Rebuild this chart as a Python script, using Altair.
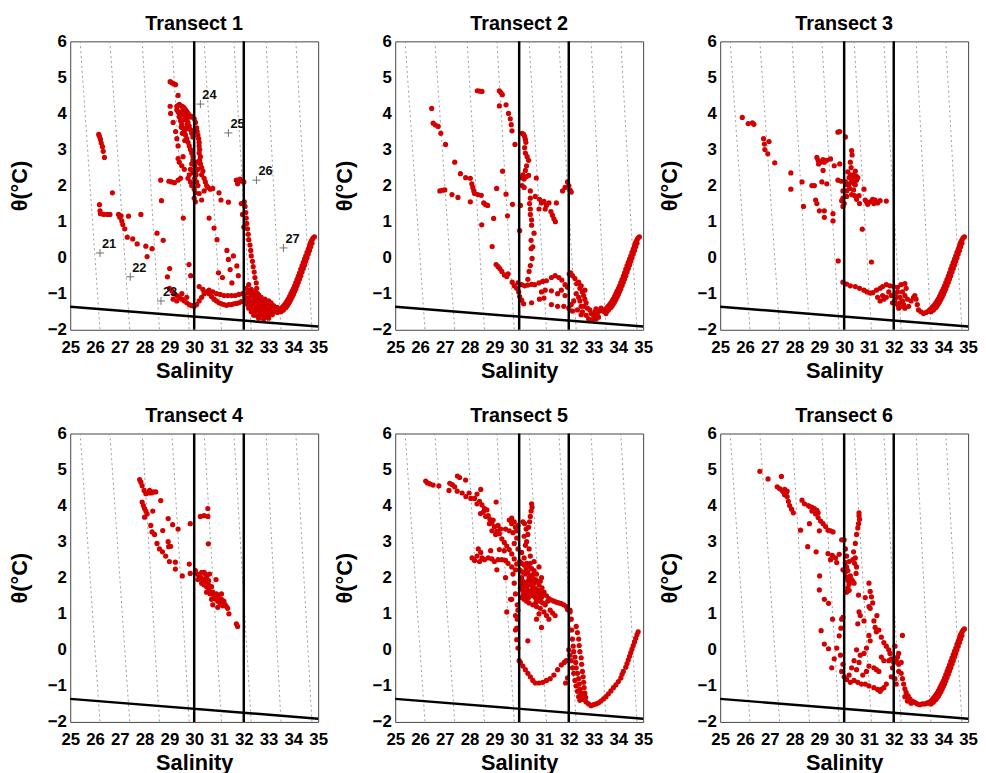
import altair as alt
import pandas as pd

FONT = "Liberation Sans"
RED = "#d40000"

s_ticks = list(range(25, 36))
t_ticks = list(range(-2, 7))
thresholds = [30, 32]
freeze_S = [25, 35]
freeze_T = [-1.36, -1.91]
iso_top_S = [25.4, 26.6, 27.9, 29.1, 30.4, 31.6, 32.9, 34.1]     # at theta = 6
iso_bot_S = [26.2, 27.4, 28.6, 29.8, 31.1, 32.3, 33.5, 34.75]    # at theta = -2

stations = ["21", "22", "23", "24", "25", "26", "27"]
station_S = [26.2, 27.42, 28.66, 30.25, 31.38, 32.51, 33.6]
station_T = [0.13, -0.53, -1.2, 4.26, 3.46, 2.15, 0.27]

deep_branch = [
    (33.4, -1.48), (33.45, -1.45), (33.5, -1.42), (33.55, -1.38), (33.6, -1.34), (33.65, -1.3),
    (33.7, -1.25), (33.75, -1.2), (33.8, -1.14), (33.85, -1.07), (33.9, -1.0), (33.95, -0.93),
    (34.0, -0.86), (34.05, -0.78), (34.1, -0.69), (34.15, -0.6), (34.2, -0.51), (34.25, -0.42),
    (34.3, -0.32), (34.35, -0.22), (34.4, -0.13), (34.45, -0.04), (34.5, 0.05), (34.55, 0.15),
    (34.6, 0.24), (34.65, 0.32), (34.68, 0.4), (34.72, 0.45), (34.76, 0.5), (34.8, 0.55), (34.85, 0.58),
    (33.5, -1.5), (33.6, -1.45), (33.7, -1.38), (33.8, -1.28), (33.9, -1.16), (34.0, -1.02),
    (34.1, -0.86), (34.2, -0.68), (34.3, -0.5), (34.4, -0.3), (34.5, -0.1), (34.6, 0.1), (34.7, 0.3),
    (33.55, -1.46), (33.65, -1.4), (33.75, -1.33), (33.85, -1.22), (33.95, -1.09), (34.05, -0.94),
    (34.15, -0.77), (34.25, -0.59), (34.35, -0.4), (34.45, -0.2), (34.55, 0.0), (34.65, 0.2), (34.75, 0.4),
]

t1_pts = [
    (26.15, 3.42), (26.18, 3.36), (26.22, 3.28), (26.25, 3.18), (26.3, 3.08), (26.33, 2.95), (26.38, 2.78),
    (26.7, 1.8), (26.18, 1.47), (26.2, 1.3), (26.22, 1.22), (26.35, 1.2), (26.5, 1.2), (26.6, 1.2),
    (26.95, 1.2), (27.0, 1.12), (27.05, 1.16), (27.08, 1.02), (27.12, 0.92), (27.2, 0.8), (27.35, 1.15), (27.85, 1.2),
    (27.3, 0.57), (27.52, 0.52), (27.7, 0.38), (28.05, 0.32), (28.3, 0.25), (28.1, 0.03), (28.5, 0.68), (28.75, 0.48),
    (28.65, 2.15), (28.68, 1.58), (28.98, 2.12), (29.08, 2.1), (29.2, 2.08), (29.35, 2.15), (29.45, 2.2),
    (29.4, 2.65), (29.5, 2.55), (29.6, 2.45), (29.35, 2.75), (29.55, 2.8),
    (29.03, 4.88), (29.1, 4.85), (29.18, 4.82), (29.25, 4.8), (29.35, 4.5),
    (29.03, 4.2), (29.05, 4.0), (29.15, 3.75), (29.25, 3.5), (29.3, 3.3), (29.35, 3.1),
    (29.3, 4.2), (29.35, 4.22), (29.4, 4.25), (29.45, 4.22), (29.5, 4.2), (29.55, 4.18), (29.6, 4.15),
    (29.65, 4.1), (29.7, 4.05), (29.75, 4.0), (29.8, 3.95), (29.85, 3.9), (29.9, 3.92), (30.0, 3.85),
    (29.3, 4.1), (29.35, 4.05), (29.4, 4.0), (29.45, 3.95), (29.5, 4.05), (29.55, 4.0), (29.6, 3.95),
    (29.65, 3.9), (29.7, 3.85), (29.75, 3.75), (29.8, 3.65), (29.85, 3.55), (29.9, 3.45), (29.95, 3.35),
    (29.4, 3.9), (29.45, 3.8), (29.5, 3.7), (29.55, 3.6), (29.6, 3.5), (29.65, 3.4), (29.7, 3.3),
    (29.75, 3.2), (29.8, 3.1), (29.85, 3.0), (29.9, 2.9), (29.95, 2.8), (29.95, 2.7), (29.9, 2.6),
    (29.85, 2.45), (29.8, 2.3), (29.75, 2.2), (29.85, 2.1), (29.95, 2.35), (29.9, 2.0),
    (29.48, 3.62), (29.58, 3.82), (29.68, 3.58), (29.52, 3.45), (29.72, 3.7), (29.62, 3.25),
    (30.05, 3.75), (30.1, 3.6), (30.12, 3.5), (30.15, 3.4), (30.18, 3.3), (30.2, 3.2), (30.2, 3.1),
    (30.22, 3.0), (30.2, 2.9), (30.25, 2.8), (30.22, 2.7), (30.25, 2.6), (30.3, 2.5), (30.35, 2.4),
    (30.3, 2.3), (30.4, 2.2), (30.45, 2.1), (30.5, 2.0), (30.55, 1.95), (30.65, 1.9), (30.75, 1.92),
    (30.02, 2.55), (30.05, 2.4), (30.08, 2.3), (30.02, 2.2), (30.1, 2.1), (30.15, 2.0), (30.0, 1.9),
    (30.05, 1.8), (30.2, 1.78), (30.0, 1.65), (30.05, 1.55), (30.3, 1.6), (30.4, 1.85), (30.15, 2.45), (30.1, 2.65),
    (31.0, 1.8), (31.08, 1.6), (31.38, 1.54), (30.6, 1.1), (30.8, 0.82), (30.92, 0.5), (31.32, 0.2),
    (31.38, -0.05), (31.58, 0.05), (31.45, -0.33), (31.72, -0.23), (30.98, -0.42), (31.14, -0.55),
    (31.52, -0.7), (31.78, -0.5),
    (29.01, -0.3), (28.92, -0.53), (29.79, -0.19), (29.86, -0.5), (29.56, 1.1),
    (31.7, 2.15), (31.78, 2.15), (31.85, 2.18), (31.92, 2.12), (32.0, 2.1), (31.75, 2.05),
    (32.02, 1.55), (32.05, 1.42), (32.08, 1.25), (32.1, 1.1), (32.12, 0.95), (32.15, 0.8), (32.18, 0.65),
    (32.2, 0.5), (32.25, 0.35), (32.28, 0.2), (32.3, 0.05), (32.35, -0.1), (32.38, -0.25), (32.42, -0.4),
    (32.45, -0.55), (32.5, -0.7), (32.52, -0.85), (32.55, -1.0), (31.9, 1.5), (31.95, 1.2), (32.0, 0.85),
    (29.0, -0.85), (29.1, -0.92), (29.2, -1.0), (29.3, -1.05), (29.4, -1.1), (29.5, -1.15), (29.6, -1.2),
    (29.7, -1.25), (29.8, -1.3), (29.9, -1.33), (30.0, -1.35), (30.1, -1.3), (30.2, -1.2), (30.3, -1.1),
    (30.4, -1.0), (30.5, -0.95), (30.6, -1.0), (30.7, -1.08), (30.8, -1.15), (30.9, -1.2), (31.0, -1.25),
    (31.1, -1.28), (31.2, -1.3), (31.3, -1.32), (31.4, -1.3), (31.5, -1.3), (31.6, -1.28), (31.7, -1.27),
    (31.8, -1.25), (31.9, -1.22),
    (30.2, -0.8), (30.35, -0.88), (30.6, -0.9), (30.75, -0.95), (30.9, -1.0), (31.05, -1.02), (31.2, -1.05),
    (31.35, -1.05), (31.5, -1.05), (31.65, -1.05), (31.8, -1.02), (31.95, -1.0), (29.15, -1.15), (29.3, -1.2),
    (29.5, -1.0), (29.7, -1.1),
    (32.1, -0.85), (32.3, -0.88), (32.2, -0.75), (32.4, -0.95),
    (32.0, -1.0), (32.15, -0.98), (32.35, -1.02), (32.5, -0.97), (32.6, -1.03), (32.25, -0.92),
    (32.05, -1.1), (32.2, -1.12), (32.4, -1.08), (32.55, -1.13), (32.7, -1.1), (32.85, -1.15), (32.3, -1.05),
    (32.1, -1.2), (32.25, -1.22), (32.4, -1.18), (32.55, -1.23), (32.7, -1.2), (32.85, -1.22), (33.0, -1.2), (33.1, -1.25),
    (32.15, -1.3), (32.3, -1.32), (32.45, -1.28), (32.6, -1.33), (32.75, -1.3), (32.9, -1.32), (33.05, -1.28), (33.2, -1.33), (33.35, -1.38),
    (32.2, -1.4), (32.35, -1.42), (32.5, -1.38), (32.65, -1.43), (32.8, -1.4), (32.95, -1.42), (33.1, -1.38), (33.25, -1.43), (33.4, -1.45),
    (32.3, -1.5), (32.45, -1.52), (32.6, -1.48), (32.75, -1.53), (32.9, -1.5), (33.05, -1.52), (33.2, -1.48), (33.35, -1.52),
    (32.4, -1.6), (32.55, -1.62), (32.7, -1.58), (32.85, -1.63), (33.0, -1.6), (33.15, -1.58),
    (32.6, -1.68), (32.8, -1.7), (33.0, -1.68),
    (32.28, -1.25), (32.52, -1.35), (32.78, -1.47), (32.95, -1.27), (33.12, -1.45), (32.68, -1.55),
] + deep_branch

t2_pts = [
    (26.47, 4.14), (26.53, 3.73), (26.62, 3.68), (26.73, 3.64), (26.84, 3.45), (27.03, 3.14),
    (27.4, 2.65), (27.63, 2.33), (27.84, 2.22), (28.03, 2.2), (28.09, 2.05), (28.13, 1.95), (28.17, 1.85),
    (28.2, 1.78), (28.33, 1.75), (28.47, 1.73), (28.57, 1.52), (28.65, 1.47), (28.73, 1.45),
    (26.8, 1.85), (26.9, 1.87), (27.0, 1.88), (27.29, 1.75), (27.53, 1.67), (28.03, 1.55), (28.49, 0.91),
    (28.31, 4.63), (28.4, 4.62), (28.5, 4.61),
    (29.2, 4.63), (29.26, 4.58), (29.32, 4.52), (29.2, 4.21), (29.47, 4.24), (29.57, 4.0), (29.64, 3.85),
    (29.68, 3.69), (29.71, 3.52), (29.83, 3.14),
    (30.12, 3.45), (30.18, 3.42), (30.22, 3.36), (30.25, 3.28), (30.27, 3.2), (30.22, 3.05), (30.25, 2.9),
    (30.32, 2.8), (30.38, 2.7), (30.3, 2.55), (30.25, 2.42), (30.15, 2.3), (30.1, 2.22), (30.2, 2.18),
    (30.3, 2.25), (30.38, 2.28), (30.12, 2.0), (30.2, 1.95), (30.45, 1.85),
    (30.45, 1.65), (30.42, 1.5), (30.45, 1.35), (30.45, 1.2), (30.5, 1.05), (30.5, 0.9), (30.6, 0.68),
    (30.48, 0.48), (30.55, 0.3), (30.48, 0.25), (30.52, -0.02), (30.45, -0.22), (30.4, -0.38), (30.35, -0.6),
    (30.02, 0.75), (30.05, 1.45),
    (30.69, 2.21), (30.65, 1.7), (30.82, 1.62), (30.9, 1.52), (31.0, 1.56), (31.1, 1.45), (31.2, 1.52),
    (31.28, 1.28), (31.34, 1.18), (31.4, 1.08), (31.46, 1.0), (31.5, 1.52), (30.8, 1.35), (31.05, 1.35),
    (31.75, 1.85), (31.85, 1.95), (31.95, 2.1), (32.0, 2.0), (32.05, 1.88), (32.1, 1.82),
    (29.33, 2.4), (29.09, 1.92), (29.47, 1.76), (29.73, 1.48), (29.53, 1.16), (28.97, 1.09), (28.91, 0.31),
    (29.07, -0.19), (29.15, -0.25), (29.22, -0.3), (29.3, -0.38), (29.4, -0.48), (29.5, -0.52), (29.55, -0.45),
    (29.72, -0.68), (29.8, -0.78), (29.9, -0.85), (29.98, -0.95), (30.02, -1.08), (30.1, -1.18), (30.18, -1.28), (29.95, -0.7),
    (30.1, -0.75), (30.22, -0.78), (30.35, -0.76), (30.5, -0.74), (30.62, -0.75), (30.8, -0.7), (30.95, -0.66),
    (31.1, -0.64), (31.3, -0.55), (31.45, -0.5), (31.6, -0.55), (31.72, -0.62), (31.85, -0.75), (31.95, -0.82),
    (30.5, -1.25), (30.82, -1.15), (31.0, -1.12), (31.3, -1.3), (31.55, -1.35), (31.8, -1.35), (32.0, -1.4), (32.15, -1.48),
    (30.9, -0.95), (31.05, -0.9), (31.3, -0.92), (31.55, -1.0), (31.7, -0.9), (31.85, -1.05),
    (32.02, -0.45), (32.08, -0.42), (32.15, -0.5), (32.25, -0.58), (32.32, -0.72), (32.4, -0.68), (32.45, -0.85),
    (32.5, -0.78), (32.55, -0.95), (32.6, -1.05), (32.65, -0.9), (32.65, -1.15), (32.7, -1.25), (32.62, -1.35),
    (32.75, -1.4), (32.85, -1.45), (32.9, -1.55), (33.0, -1.6), (33.05, -1.5), (33.1, -1.42), (33.15, -1.55),
    (33.2, -1.65), (33.25, -1.48), (33.3, -1.4), (33.4, -1.48), (33.5, -1.55), (33.55, -1.48),
    (32.3, -1.0), (32.4, -1.1), (32.45, -1.2), (32.5, -1.35), (32.55, -1.5), (32.7, -1.6), (32.8, -1.7),
    (32.95, -1.72), (33.1, -1.7), (32.2, -1.2), (32.1, -1.3), (32.35, -1.45), (32.5, -1.58),
] + deep_branch

t3_pts = [
    (25.89, 3.89), (26.13, 3.72), (26.3, 3.74), (26.36, 3.7),
    (26.75, 3.3), (26.78, 3.15), (26.8, 3.0), (26.92, 2.88), (26.97, 3.22),
    (27.2, 2.63), (27.85, 2.35), (27.85, 1.9), (28.3, 2.1), (28.36, 1.42),
    (28.7, 2.0), (28.8, 2.0), (28.85, 1.6), (28.9, 1.5), (29.0, 1.3), (29.2, 1.3), (29.2, 1.12),
    (29.55, 1.22), (29.55, 1.02),
    (28.9, 2.78), (28.95, 2.7), (28.97, 2.6), (29.05, 2.65), (29.15, 2.72), (29.3, 2.7), (29.45, 2.74),
    (29.15, 2.42), (29.1, 2.1), (29.3, 2.05), (29.6, 2.55), (29.2, 2.65),
    (29.75, 3.48), (29.82, 3.5), (30.05, 3.35),
    (30.3, 2.97), (30.32, 2.85), (30.25, 2.65), (30.28, 2.5), (30.15, 2.38), (30.38, 2.3), (30.48, 2.26),
    (30.5, 2.15), (30.2, 2.22), (30.3, 2.12), (30.12, 2.02), (30.22, 1.92), (30.38, 1.88), (30.3, 1.75),
    (30.1, 1.7), (30.0, 1.5), (29.95, 1.42), (29.95, 1.65), (29.75, 2.15), (29.88, 2.12), (29.82, 2.6),
    (30.55, 2.22), (30.45, 2.02), (30.6, 1.72), (30.5, 1.62), (30.62, 1.5), (30.4, 2.05), (30.2, 2.05),
    (30.35, 2.2), (30.45, 2.4), (30.1, 1.85), (30.05, 2.1), (29.95, 1.85), (29.9, 1.58), (30.42, 1.72), (30.25, 2.3),
    (30.8, 1.9), (30.85, 1.6), (30.95, 1.48), (31.05, 1.55), (31.15, 1.62), (31.25, 1.6), (31.35, 1.52),
    (31.45, 1.58), (31.7, 1.57), (30.73, 0.79), (31.1, -0.12), (30.9, 1.55), (31.2, 1.5),
    (29.76, -0.09), (29.95, -0.68), (30.1, -0.73), (30.25, -0.78), (30.45, -0.8), (30.62, -0.85), (30.8, -0.9),
    (30.92, -0.95), (31.05, -0.98), (31.15, -0.97),
    (31.3, -0.9), (31.45, -0.85), (31.55, -0.8), (31.7, -0.75), (31.85, -0.78), (32.0, -0.8), (32.15, -0.82),
    (32.3, -0.75), (32.45, -0.72),
    (31.35, -1.1), (31.45, -1.2), (31.55, -1.05), (31.7, -1.1), (31.8, -0.95), (31.9, -1.05), (32.05, -1.0),
    (32.15, -0.95), (32.25, -1.1), (32.35, -0.95), (32.45, -1.05), (32.5, -0.85), (32.55, -1.15),
    (32.05, -1.2), (32.15, -1.3), (32.25, -1.25), (32.35, -1.2), (32.4, -1.3), (32.2, -1.4), (32.3, -1.35),
    (32.45, -1.4), (32.6, -1.35), (32.7, -1.2), (32.8, -1.1), (32.85, -1.05), (32.9, -1.15), (32.95, -1.3),
    (33.0, -1.45), (33.1, -1.5), (33.2, -1.55), (33.3, -1.52), (31.95, -1.25), (32.1, -1.1), (31.6, -1.15),
] + deep_branch

t4_pts = [
    (27.8, 4.72), (27.85, 4.65), (27.9, 4.55), (27.98, 4.42), (28.05, 4.33), (28.15, 4.35), (28.2, 4.42),
    (28.27, 4.35), (28.35, 4.38), (28.45, 4.38),
    (27.9, 4.1), (27.95, 4.0), (28.0, 3.92), (28.05, 3.85), (28.1, 3.77), (28.0, 3.68),
    (28.25, 3.45), (28.3, 3.27), (28.4, 3.2), (28.5, 2.95), (28.6, 2.8), (28.72, 2.72), (28.85, 2.6), (29.0, 2.45),
    (28.33, 3.85), (28.65, 4.14), (28.73, 3.31), (28.95, 3.64), (29.13, 3.47), (29.35, 3.35), (28.95, 3.0),
    (28.97, 2.86), (29.05, 2.87),
    (29.24, 2.43), (29.24, 2.24), (29.52, 2.05), (29.8, 2.38), (29.84, 2.12), (29.84, 3.5),
    (30.25, 3.7), (30.4, 3.72), (30.55, 3.92), (30.55, 3.7), (30.57, 2.94),
    (30.05, 2.2), (30.12, 2.1), (30.2, 2.05), (30.28, 2.0), (30.35, 1.95), (30.45, 2.1), (30.5, 2.0),
    (30.42, 1.9), (30.3, 1.85), (30.4, 1.8), (30.5, 1.75), (30.55, 1.85), (30.6, 1.65), (30.65, 1.55),
    (30.58, 1.92), (30.7, 1.75), (30.75, 1.6), (30.8, 1.5), (30.85, 1.42), (30.9, 1.55), (30.95, 1.35),
    (31.0, 1.45), (31.05, 1.28), (31.1, 1.4), (31.15, 1.22), (31.2, 1.35), (31.25, 1.25), (31.3, 1.2),
    (31.35, 1.15), (31.4, 1.0), (30.88, 1.95), (30.62, 2.1), (30.75, 1.25), (30.95, 1.18), (30.5, 1.6),
    (30.4, 2.15), (30.3, 2.15), (30.6, 1.78), (30.15, 1.95), (31.7, 0.72), (31.75, 0.65), (30.7, 1.4), (31.1, 1.55),
]

t5_pts = [
    (26.23, 4.68), (26.3, 4.63), (26.4, 4.6), (26.53, 4.57), (26.76, 4.55),
    (27.2, 4.62), (27.3, 4.58), (27.4, 4.52), (27.17, 4.42), (27.51, 4.82), (27.6, 4.78), (27.84, 4.71), (27.5, 4.4),
    (27.7, 4.35), (27.85, 4.25), (27.98, 4.35), (28.05, 4.2), (28.2, 4.2), (28.3, 4.32), (28.45, 4.45),
    (28.4, 4.12), (28.5, 4.02), (28.6, 3.92), (28.7, 3.88), (28.75, 3.72), (28.82, 3.62), (28.9, 3.52),
    (29.0, 3.42), (29.1, 3.3), (29.2, 3.22), (29.3, 3.08), (29.4, 2.98), (29.5, 2.88), (29.6, 2.78),
    (29.7, 2.66), (29.8, 2.52), (29.9, 2.38), (30.0, 2.22), (29.07, 4.1), (28.44, 3.78), (28.3, 4.05),
    (28.55, 3.82), (28.65, 3.7), (28.8, 3.5), (28.95, 3.6), (29.15, 3.45), (29.25, 3.35), (29.05, 3.2), (28.9, 3.3),
    (28.1, 2.55), (28.2, 2.48), (28.3, 2.6), (28.35, 2.8), (28.45, 2.7), (28.5, 2.55), (28.6, 2.5),
    (28.75, 2.55), (28.9, 2.52), (29.0, 2.45), (29.15, 2.5), (29.3, 2.5), (29.45, 2.48), (29.55, 2.4),
    (29.7, 2.3), (29.85, 2.22), (29.1, 2.22), (29.2, 2.78), (28.85, 2.75), (29.4, 2.75), (28.4, 2.45),
    (29.6, 3.6), (29.7, 3.65), (29.8, 3.55), (29.85, 3.4), (29.9, 3.3), (29.75, 3.25), (29.9, 3.1),
    (29.6, 3.3), (29.45, 3.35), (29.8, 2.95), (29.95, 2.8), (29.95, 3.45), (29.7, 3.5),
    (30.5, 4.05), (30.52, 3.95), (30.48, 3.85), (30.45, 3.7), (30.42, 3.55), (30.38, 3.4), (30.35, 3.2),
    (30.3, 3.0), (30.22, 3.5), (30.28, 3.35), (30.15, 3.55), (30.2, 3.15), (30.25, 2.9), (30.4, 2.8),
    (30.45, 2.6), (30.1, 2.7),
    (30.02, 2.45), (30.1, 2.4), (30.2, 2.35), (30.3, 2.4), (30.4, 2.3), (30.5, 2.25), (30.6, 2.2),
    (30.05, 2.2), (30.15, 2.15), (30.25, 2.1), (30.35, 2.15), (30.45, 2.05), (30.55, 2.0), (30.65, 1.95), (30.75, 1.9),
    (30.05, 1.95), (30.15, 1.9), (30.25, 1.85), (30.35, 1.9), (30.45, 1.8), (30.55, 1.75), (30.65, 1.7),
    (30.75, 1.65), (30.85, 1.6), (30.95, 1.55),
    (30.05, 1.7), (30.15, 1.65), (30.25, 1.6), (30.35, 1.65), (30.45, 1.55), (30.55, 1.5), (30.65, 1.45),
    (30.75, 1.4), (30.85, 1.35), (30.95, 1.3), (31.05, 1.25),
    (30.1, 1.45), (30.2, 1.4), (30.3, 1.35), (30.4, 1.3), (30.55, 1.25), (30.7, 1.2), (30.85, 1.15), (31.0, 1.05), (31.1, 0.95),
    (30.1, 2.0), (30.2, 1.75), (30.3, 1.5), (30.4, 2.0), (30.5, 1.65), (30.6, 1.85), (30.7, 1.55), (30.8, 1.8),
    (30.9, 1.45), (31.0, 1.6), (31.1, 1.5), (31.15, 1.35), (30.6, 2.45), (30.7, 2.1), (30.8, 2.3), (30.9, 2.0), (30.2, 2.55),
    (30.12, 1.82), (30.32, 1.78), (30.48, 1.92), (30.62, 1.6), (30.78, 1.52), (30.28, 2.25), (30.58, 2.1),
    (30.38, 1.45), (30.68, 1.32), (30.18, 1.55), (30.92, 1.72), (30.45, 2.4), (30.85, 1.9),
    (31.2, 1.42), (31.3, 1.38), (31.4, 1.35), (31.5, 1.32), (31.6, 1.3), (31.7, 1.28), (31.8, 1.25), (31.9, 1.2),
    (31.95, 1.12), (32.05, 1.1), (31.25, 1.1), (31.35, 1.02), (31.45, 0.95), (31.2, 0.85), (30.9, 0.62), (30.7, 0.85), (30.8, 1.0),
    (29.8, 1.85), (29.85, 1.55), (29.7, 1.4), (29.92, 1.25), (29.85, 0.95), (29.92, 0.85), (29.85, 0.55),
    (29.9, 0.28), (29.95, 0.05), (30.0, -0.3), (29.65, 1.4), (29.5, 1.05), (29.95, 1.1), (29.9, 0.6),
    (30.35, 0.25), (29.45, 2.0), (29.75, 2.1),
    (30.05, -0.35), (30.15, -0.45), (30.25, -0.55), (30.35, -0.65), (30.45, -0.75), (30.55, -0.85),
    (30.65, -0.92), (30.8, -0.92), (30.95, -0.9), (31.1, -0.85), (31.25, -0.8), (31.4, -0.7), (31.55, -0.55),
    (31.7, -0.42), (31.82, -0.35), (31.9, -0.3), (31.87, -0.92), (31.95, -0.78),
    (32.05, 1.05), (32.1, 0.85), (32.12, 0.55), (32.15, 0.3), (32.18, 0.1), (32.2, -0.05), (32.25, -0.2),
    (32.28, -0.35), (32.3, -0.5), (32.35, -0.65), (32.4, -0.8), (32.42, -0.95), (32.45, -1.1), (32.5, -1.2),
    (32.55, -1.3), (32.6, -1.38), (32.7, -1.45), (32.8, -1.5), (32.9, -1.55), (33.0, -1.52),
    (32.3, 0.65), (32.35, 0.48), (32.4, 0.3), (32.42, 0.12), (32.45, -0.05), (32.5, -0.22), (32.52, -0.4),
    (32.55, -0.6), (32.58, -0.75), (32.6, -0.9), (32.62, -1.05), (32.65, -1.2), (32.68, -1.32),
    (32.0, 0.0), (32.05, -0.15), (32.1, -0.3), (32.15, -0.5), (32.2, -0.65), (32.25, -0.85), (32.3, -1.0),
    (32.35, -1.15), (32.4, -1.3), (32.45, -1.4),
    (33.1, -1.5), (33.2, -1.47), (33.3, -1.42), (33.4, -1.36), (33.5, -1.3), (33.6, -1.22), (33.7, -1.14),
    (33.8, -1.05), (33.9, -0.97), (34.0, -0.88), (34.1, -0.78), (34.15, -0.68), (34.2, -0.6), (34.3, -0.48),
    (34.35, -0.38), (34.4, -0.28), (34.45, -0.18), (34.5, -0.08), (34.55, 0.02), (34.6, 0.12), (34.65, 0.22),
    (34.7, 0.32), (34.75, 0.42), (34.8, 0.5),
]

t6_pts = [
    (26.6, 4.95), (26.93, 4.74), (27.47, 4.81),
    (27.3, 4.52), (27.4, 4.47), (27.5, 4.42), (27.6, 4.45), (27.7, 4.4), (27.6, 4.3), (27.7, 4.25),
    (27.75, 4.12), (27.8, 4.0), (27.88, 3.9), (27.95, 3.8), (27.55, 4.38), (27.65, 4.35),
    (28.3, 4.15), (28.4, 4.05), (28.55, 4.0), (28.62, 3.97), (28.7, 3.95), (28.8, 3.92), (28.9, 3.87),
    (28.7, 3.85), (28.85, 3.77), (28.95, 3.67), (29.05, 3.57), (29.15, 3.5), (29.25, 3.42), (29.35, 3.32),
    (29.45, 3.3), (29.55, 3.27), (29.0, 3.3), (28.95, 3.8),
    (28.24, 3.32), (28.6, 3.5), (28.53, 2.86), (28.87, 2.72),
    (29.35, 2.67), (29.45, 2.5), (29.52, 2.62), (29.65, 2.55), (29.7, 2.42), (29.9, 3.05), (29.8, 2.65),
    (29.01, 2.05), (29.0, 1.66), (29.2, 1.4), (29.37, 1.29), (29.53, 0.85), (29.07, 0.53), (29.2, 0.16),
    (29.37, 0.03), (29.6, -0.25), (29.5, -0.5), (29.8, 0.39), (29.87, 0.6), (29.9, 0.85), (29.95, 0.9),
    (29.7, 0.05), (29.85, -0.15), (29.95, -0.4),
    (30.0, 3.05), (30.05, 2.8), (30.1, 2.6), (30.05, 2.42), (30.1, 2.3), (30.15, 2.2), (30.1, 2.02),
    (30.15, 1.92), (30.2, 1.82), (30.15, 1.72), (30.2, 1.65), (30.3, 1.95), (30.35, 1.9), (30.4, 1.85),
    (30.05, 2.15), (29.95, 2.22), (30.2, 2.45), (30.25, 2.05), (30.1, 1.6),
    (30.6, 3.8), (30.6, 3.72), (30.62, 3.62), (30.58, 3.5), (30.55, 3.38), (30.5, 3.2), (30.45, 2.95),
    (30.38, 2.72), (30.35, 2.5), (30.42, 2.4), (30.5, 2.3), (30.48, 2.12), (30.58, 1.52), (30.6, 1.05),
    (30.55, 0.72), (30.65, 0.95), (30.45, 2.55),
    (31.0, 1.85), (31.05, 1.62), (31.1, 1.47), (31.15, 1.3), (31.0, 1.2), (31.05, 1.15), (30.85, 1.45),
    (30.8, 0.8), (31.2, 0.8), (31.25, 0.62), (31.3, 0.5), (31.32, 0.95), (31.4, 0.55), (31.5, 0.35),
    (31.6, 0.2), (31.7, 0.1), (31.8, 0.0), (31.85, -0.1), (31.0, 0.4), (31.05, 0.25), (31.2, -0.5),
    (31.3, -0.55), (31.4, -0.6), (31.0, -0.45), (31.5, -0.2), (31.6, -0.3), (31.8, -0.3), (31.9, -0.25),
    (32.0, -0.35), (32.1, -0.3), (32.2, -0.4), (32.3, -0.35), (32.35, 0.4), (32.2, -0.1), (32.05, 0.1),
    (31.9, -0.75), (32.05, -0.8), (32.2, -0.6), (32.3, -0.65), (32.1, -0.95), (32.15, -0.2), (31.95, -0.5),
    (30.0, -0.75), (30.1, -0.82), (30.25, -0.9), (30.4, -0.85), (30.55, -0.9), (30.7, -0.95), (30.85, -0.95),
    (31.0, -1.0), (31.2, -1.05), (31.35, -1.1), (31.5, -1.1), (31.6, -1.05), (31.45, -1.15), (31.7, -0.95),
    (29.9, -0.6), (30.2, -0.7), (30.5, -0.55), (30.3, -0.5), (30.75, -0.7), (30.9, -0.6), (30.4, -0.3),
    (30.6, -0.35), (30.8, -0.1), (30.9, 0.05), (30.5, 0.0), (30.65, -0.15),
    (32.35, -0.8), (32.4, -0.95), (32.45, -1.08), (32.5, -1.18), (32.58, -1.28), (32.65, -1.36),
    (32.75, -1.42), (32.85, -1.46), (32.95, -1.5), (33.05, -1.52), (33.15, -1.5), (33.25, -1.5),
    (33.35, -1.47), (32.45, -1.3), (32.55, -1.42), (32.7, -1.48),
] + deep_branch

transects = [t1_pts, t2_pts, t3_pts, t4_pts, t5_pts, t6_pts]

# ---------------------------------------------------------------------------
PANEL_W, PANEL_H = 251, 292
x_scale = alt.Scale(domain=[25, 35], nice=False, zero=False)
y_scale = alt.Scale(domain=[-2, 6], nice=False, zero=False)
x_axis = alt.Axis(values=s_ticks, title="Salinity", format="d", ticks=False, grid=False, domain=False,
                  labelFlush=False, labelOverlap=False, labelPadding=10, titlePadding=5)
y_axis = alt.Axis(values=t_ticks, title="θ(°C)", format="d", ticks=False, grid=False, domain=False,
                  labelFlush=False, labelOverlap=False, labelPadding=4, titlePadding=16)


def X(field="S"):
    return alt.X(f"{field}:Q", scale=x_scale, axis=x_axis)


def Y(field="T"):
    return alt.Y(f"{field}:Q", scale=y_scale, axis=y_axis)


iso_rows = []
for k, (a, b) in enumerate(zip(iso_top_S, iso_bot_S)):
    iso_rows.append({"id": k, "S": a, "T": 6})
    iso_rows.append({"id": k, "S": b, "T": -2})
iso_df = pd.DataFrame(iso_rows)
freeze_df = pd.DataFrame({"S": freeze_S, "T": freeze_T})
thr_df = pd.DataFrame({"S": thresholds})
stn_df = pd.DataFrame({"name": stations, "S": station_S, "T": station_T})


def panel(i, pts):
    df = pd.DataFrame(pts, columns=["S", "T"])
    iso = alt.Chart(iso_df).mark_line(color="#9a9a9a", strokeWidth=1, strokeDash=[2, 3]).encode(
        x=X(), y=Y(), detail="id:N")
    dots = alt.Chart(df).mark_circle(size=28, color=RED, opacity=1, clip=True).encode(x=X(), y=Y())
    vl = alt.Chart(thr_df).mark_rule(color="black", strokeWidth=2.5).encode(x=X())
    fr = alt.Chart(freeze_df).mark_line(color="black", strokeWidth=2.5).encode(x=X(), y=Y())
    layers = [iso, dots, vl, fr]
    if i == 1:
        plus = alt.Chart(stn_df).mark_point(shape="M-1,0L1,0M0,-1L0,1", size=64, filled=False,
                                            color="#333", strokeWidth=1).encode(x=X(), y=Y())
        lab = alt.Chart(stn_df).mark_text(align="left", baseline="bottom", dx=2, dy=-2, fontSize=13,
                                          fontWeight="bold", color="#111").encode(x=X(), y=Y(), text="name:N")
        layers += [plus, lab]
    return alt.layer(*layers).properties(
        width=PANEL_W, height=PANEL_H,
        title=alt.TitleParams(f"Transect {i}", fontSize=20, fontWeight="bold", anchor="middle", offset=-1),
    )


panels = [panel(i + 1, p) for i, p in enumerate(transects)]
row1 = alt.hconcat(*panels[:3], spacing=78, bounds="flush")
row2 = alt.hconcat(*panels[3:], spacing=78, bounds="flush")
chart = alt.vconcat(row1, row2, spacing=23).properties(
    padding={"left": 0, "top": 0, "right": 0, "bottom": 0}
).configure(font=FONT).configure_view(
    stroke="#444", strokeWidth=1
).configure_axis(
    labelFontSize=17, labelFontWeight="bold", labelColor="black",
    titleFontSize=22, titleFontWeight="bold", titleColor="black",
).configure_title(color="black")

chart.save("out.html", embed_options={"renderer": "svg", "actions": False})
